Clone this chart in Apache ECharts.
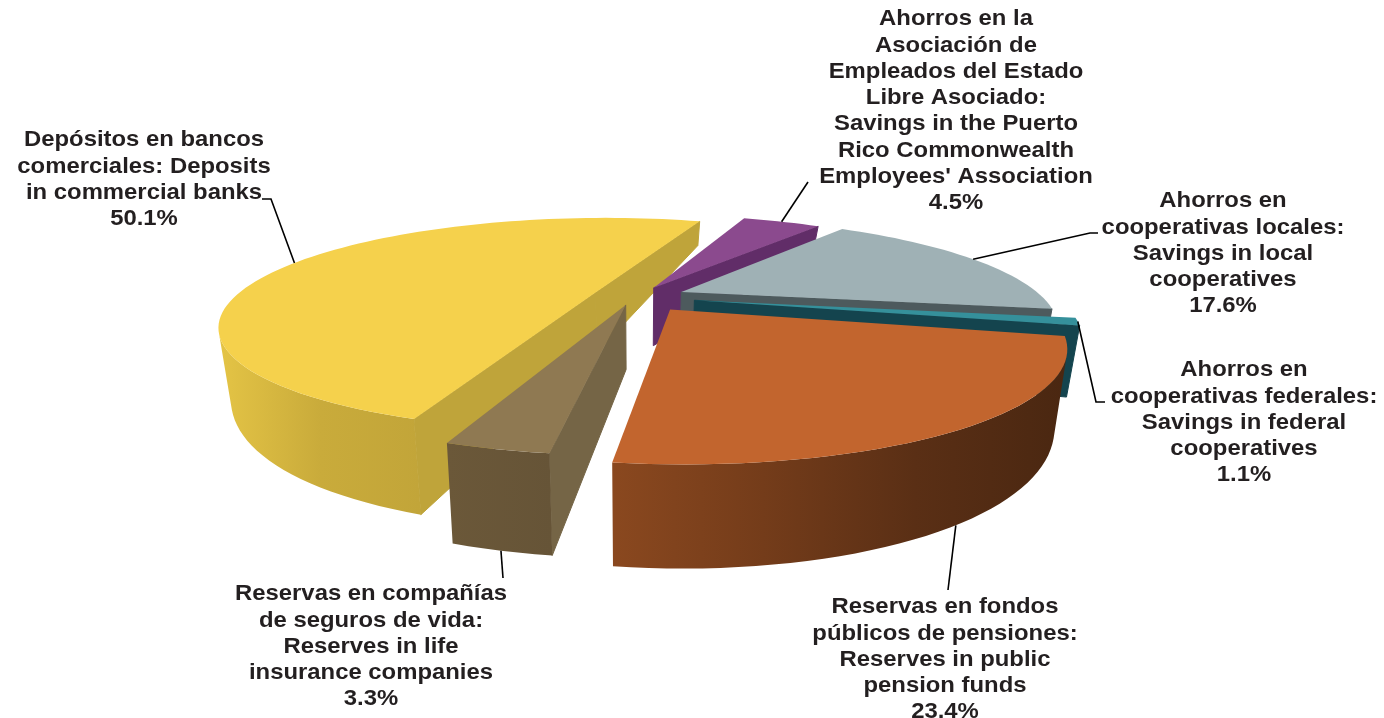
<!DOCTYPE html>
<html>
<head>
<meta charset="utf-8">
<title>Ahorro</title>
<script src="https://cdn.jsdelivr.net/npm/echarts@6/dist/echarts.min.js"></script>
<style>
html, body { margin: 0; padding: 0; background: #fff; }
#main { width: 1384px; height: 718px; }
</style>
</head>
<body>
<div id="main"></div>
<script>
// data, in pie order (clockwise from the first slice)
var categories = [
    'Depósitos en bancos\ncomerciales: Deposits\nin commercial banks',
    'Ahorros en la\nAsociación de\nEmpleados del Estado\nLibre Asociado:\nSavings in the Puerto\nRico Commonwealth\nEmployees\' Association',
    'Ahorros en\ncooperativas locales:\nSavings in local\ncooperatives',
    'Ahorros en\ncooperativas federales:\nSavings in federal\ncooperatives',
    'Reservas en fondos\npúblicos de pensiones:\nReserves in public\npension funds',
    'Reservas en compañías\nde seguros de vida:\nReserves in life\ninsurance companies'
];
var shares = [50.1, 4.5, 17.6, 1.1, 23.4, 3.3];

// far slices first, near slices paint over them
var drawOrder = [0, 1, 2, 3, 5, 4];

// view of the pie
var view = { cx: 639, cy: 298, a: 362, b: 100, persp: 0.3, startAngle: -109.5, shrink: 0.97 };
// how far each slice is pulled out, in pie radii on the pie's own plane
var pullOut = [[-0.122, 0.055], [0.042, 0.106], [0.119, 0.06], [0.152, -0.022], [0.083, -0.11], [-0.036, -0.068]];

// slice looks, same order as categories
var looks = [
    { top: '#f5d14c', face: '#bfa43a', rim: ['#e4c445', '#c9ab3b', '#c2a539'] },
    { top: '#8b4a8e', face: '#612d68', rim: ['#612d68', '#612d68'] },
    { top: '#9fb1b5', face: '#4d5a5d', rim: ['#4d5a5d', '#4d5a5d'] },
    { top: '#35909b', face: '#14444e', rim: ['#1c5561', '#1c5561'] },
    { top: '#c2652e', face: '#7a3f1b', rim: ['#8a481f', '#743c1a', '#5a2f15', '#4a2711'] },
    { top: '#8f7952', face: '#756546', rim: ['#6b5839', '#665437'] }
];

// label blocks: centre x, top y, leader elbows, rim level the leader starts from
var labelBoxes = [
    { x: 144, y: 127, path: [[271, 199], [262, 199]], h: 0 },
    { x: 956, y: 6, path: [[808, 182]], h: 0 },
    { x: 1223, y: 188, path: [[1090, 233], [1098, 233]], h: 0 },
    { x: 1244, y: 357, path: [[1096, 402], [1105, 402]], h: 0 },
    { x: 945, y: 594, path: [[948, 590]], h: 1 },
    { x: 371, y: 581, path: [[503, 578]], h: 1 }
];

function project(u, v, h) {
    var w = 1 + view.persp * v;
    var x = view.cx + view.a * u / w;
    var y = view.cy - view.b * v / w;
    if (h) {
        x = view.cx + (x - view.cx) * view.shrink;
        y = y + 62 - 38 * v;
    }
    return [x, y];
}

function area(pts) {
    var s = 0;
    for (var i = 0; i < pts.length; i++) {
        var p = pts[i], q = pts[(i + 1) % pts.length];
        s += p[0] * q[1] - q[0] * p[1];
    }
    return s;
}

function sliceAngles(idx) {
    var total = 0, before = 0;
    for (var i = 0; i < shares.length; i++) {
        total += shares[i];
        if (i < idx) before += shares[i];
    }
    var from = view.startAngle - before / total * 360;
    return [from, from - shares[idx] / total * 360];
}

function rimPoint(idx, deg, h) {
    var t = deg * Math.PI / 180;
    return project(pullOut[idx][0] + Math.cos(t), pullOut[idx][1] + Math.sin(t), h);
}

function apexPoint(idx, h) {
    return project(pullOut[idx][0], pullOut[idx][1], h);
}

function renderSlice(params, api) {
    var idx = api.value(0);
    var look = looks[idx];
    var ang = sliceAngles(idx);
    var children = [];
    var n = Math.max(2, Math.ceil((ang[0] - ang[1]) / 2));
    var arc = [], top = [apexPoint(idx, 0)];
    for (var i = 0; i <= n; i++) {
        var deg = ang[0] + (ang[1] - ang[0]) * i / n;
        arc.push(deg);
        top.push(rimPoint(idx, deg, 0));
    }

    // cut faces
    var first = [apexPoint(idx, 0), rimPoint(idx, ang[0], 0), rimPoint(idx, ang[0], 1), apexPoint(idx, 1)];
    var last = [apexPoint(idx, 0), rimPoint(idx, ang[1], 0), rimPoint(idx, ang[1], 1), apexPoint(idx, 1)];
    if (area(first) < 0) {
        children.push({ type: 'polygon', shape: { points: first }, style: { fill: look.face, stroke: look.face, lineWidth: 1 } });
    }
    if (area(last) > 0) {
        children.push({ type: 'polygon', shape: { points: last }, style: { fill: look.face, stroke: look.face, lineWidth: 1 } });
    }

    // outer wall, only the part facing us
    var upper = [], lower = [];
    for (var j = 0; j < n; j++) {
        var a0 = rimPoint(idx, arc[j], 0), a1 = rimPoint(idx, arc[j + 1], 0);
        var b0 = rimPoint(idx, arc[j], 1), b1 = rimPoint(idx, arc[j + 1], 1);
        if (area([a0, a1, b1, b0]) < 0) {
            if (!upper.length) {
                upper.push(a0);
                lower.push(b0);
            }
            upper.push(a1);
            lower.push(b1);
        }
    }
    if (upper.length) {
        var wall = upper.concat(lower.slice().reverse());
        var xs = wall.map(function(p) { return p[0]; });
        var x0 = Math.min.apply(null, xs), x1 = Math.max.apply(null, xs);
        var stops = look.rim.map(function(c, k) {
            return { offset: k / (look.rim.length - 1), color: c };
        });
        children.push({
            type: 'polygon',
            shape: { points: wall },
            style: { fill: new echarts.graphic.LinearGradient(x0, 0, x1, 0, stops, true) }
        });
    }

    children.push({ type: 'polygon', shape: { points: top }, style: { fill: look.top } });
    return { type: 'group', children: children };
}

function renderLabel(params, api) {
    var idx = api.value(0);
    var box = labelBoxes[idx];
    var ang = sliceAngles(idx);
    var start = rimPoint(idx, (ang[0] + ang[1]) / 2, box.h);
    return {
        type: 'group',
        children: [{
            type: 'polyline',
            shape: { points: [start].concat(box.path) },
            style: { stroke: '#000', lineWidth: 1.6, fill: null }
        }, {
            type: 'text',
            x: box.x,
            y: box.y,
            scaleX: 1.085,
            style: {
                text: categories[idx] + '\n' + shares[idx].toFixed(1) + '%',
                fill: '#231f20',
                font: 'bold 22px "Liberation Sans", Arial, sans-serif',
                lineHeight: 26.3,
                align: 'center',
                verticalAlign: 'top'
            }
        }]
    };
}

var myChart = echarts.init(document.getElementById('main'));
var option = {
    animation: false,
    backgroundColor: '#ffffff',
    series: [{
        type: 'custom',
        coordinateSystem: 'none',
        silent: true,
        renderItem: renderSlice,
        data: drawOrder.map(function(i) { return [i, shares[i]]; })
    }, {
        type: 'custom',
        coordinateSystem: 'none',
        silent: true,
        z: 5,
        renderItem: renderLabel,
        data: drawOrder.map(function(i) { return [i, shares[i]]; })
    }]
};
myChart.setOption(option);
</script>
</body>
</html>
